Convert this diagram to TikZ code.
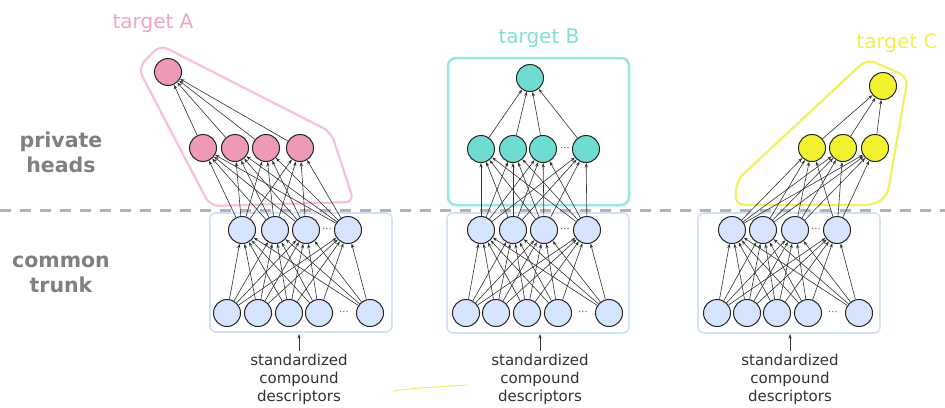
\documentclass[tikz,border=0pt]{standalone}
\usepackage{fontspec}
\setmainfont{DejaVu Sans}
\usetikzlibrary{arrows.meta}
\definecolor{pinkfill}{HTML}{EE9AB4}
\definecolor{pinkline}{HTML}{F7C2D2}
\definecolor{pinktext}{HTML}{F2A5BE}
\definecolor{tealfill}{HTML}{6EDCD0}
\definecolor{tealline}{HTML}{94E8DF}
\definecolor{tealtext}{HTML}{7FE0D6}
\definecolor{yelfill}{HTML}{F2F230}
\definecolor{yelline}{HTML}{F0F060}
\definecolor{yeltext}{HTML}{F0F050}
\definecolor{bluefill}{HTML}{D6E4FF}
\definecolor{blueline}{HTML}{D2E0FA}
\definecolor{labgray}{HTML}{808080}
\definecolor{dashgray}{HTML}{B4B4B4}
\definecolor{edgegray}{HTML}{333333}
\tikzset{
  neuron/.style={circle,draw=black!85,line width=1pt,minimum size=27pt,inner sep=0pt},
  trunkn/.style={neuron,fill=bluefill},
  pinkn/.style={neuron,fill=pinkfill},
  tealn/.style={neuron,fill=tealfill},
  yeln/.style={neuron,fill=yelfill},
  conn/.style={draw=edgegray,line width=0.6pt,-{Stealth[length=4.5pt,width=3.2pt]}},
  sidelabel/.style={font=\fontsize{20.5}{25}\selectfont\bfseries,text=labgray,align=center},
  targetlabel/.style={font=\fontsize{20}{24}\selectfont},
  desclabel/.style={font=\fontsize{15}{18}\selectfont,text=edgegray,align=center},
  dotsn/.style={font=\fontsize{10}{10}\selectfont,text=black!65,inner sep=0pt},
  trunkbox/.style={draw=blueline,line width=1.6pt,rounded corners=6pt},
}
\begin{document}
\begin{tikzpicture}[x=1pt,y=-1pt]
\useasboundingbox (0,0) rectangle (945,407);
\fill[white] (0,0) rectangle (945,407);

% dashed separator
\draw[dashgray,line width=3pt,dash pattern=on 11pt off 9pt] (0,210) -- (945,210);

% side labels
\node[sidelabel] (lp) at (61,152) {private\\heads};
\node[sidelabel] (lc) at (61,274) {common\\trunk};

% head containers
\draw[pinkline,line width=2.2pt,rounded corners=9pt] (138,68) -- (160,45) -- (331,132) -- (354,202) -- (210,206) -- cycle;
\draw[tealline,line width=2.5pt,rounded corners=8pt] (448,58) rectangle (629,205);
\draw[yelline,line width=2.2pt,rounded corners=9pt] (735,205) -- (737,180) -- (867,59) -- (908,77) -- (887,197) -- (873,205) -- cycle;

% trunk boxes
\draw[trunkbox] (210,213) rectangle (392,332);
\draw[trunkbox] (447,213) rectangle (629,333);
\draw[trunkbox] (698,213) rectangle (880,333);

% target labels
\node[targetlabel,text=pinktext] (ta) at (153,23) {target A};
\node[targetlabel,text=tealtext] (tb) at (539,38) {target B};
\node[targetlabel,text=yeltext] (tc) at (897,43) {target C};

% trunk nodes
\foreach \p/\hx/\ix in {1/{242,275,306,348}/{227,258,289,319,370},
                        2/{481,513,544,587}/{466,496,527,558,609},
                        3/{732,763,795,837}/{717,747,777,808,859}}{
  \foreach \x [count=\j] in \hx { \node[trunkn] (h\p-\j) at (\x,230) {}; }
  \foreach \x [count=\i] in \ix { \node[trunkn] (i\p-\i) at (\x,313) {}; }
  \foreach \i in {1,...,5}{ \foreach \j in {1,...,4}{ \draw[conn] (i\p-\i) -- (h\p-\j); } }
}
\node[dotsn] (d1a) at (327,230) {···};
\node[dotsn] (d1b) at (344,313) {···};
\node[dotsn] (d2a) at (565,230) {···};
\node[dotsn] (d2b) at (583,313) {···};
\node[dotsn] (d3a) at (816,230) {···};
\node[dotsn] (d3b) at (833,313) {···};

% head A
\node[pinkn] (aO) at (168,72) {};
\foreach \x [count=\k] in {203,235,266,300}{ \node[pinkn] (aH\k) at (\x,148) {}; }
\foreach \k in {1,...,4}{
  \draw[conn] (aH\k) -- (aO);
  \foreach \j in {1,...,4}{ \draw[conn] (h1-\j) -- (aH\k); }
}

% head B
\node[tealn] (bO) at (530,78) {};
\foreach \x [count=\k] in {481,513,543,586}{ \node[tealn] (bH\k) at (\x,149) {}; }
\node[dotsn] (dB) at (565,149) {···};
\foreach \k in {1,...,4}{
  \draw[conn] (bH\k) -- (bO);
  \foreach \j in {1,...,4}{ \draw[conn] (h2-\j) -- (bH\k); }
}

% head C
\node[yeln] (cO) at (883,86) {};
\foreach \x [count=\k] in {812,843,875}{ \node[yeln] (cH\k) at (\x,148) {}; }
\foreach \k in {1,...,3}{
  \draw[conn] (cH\k) -- (cO);
  \foreach \j in {1,...,4}{ \draw[conn] (h3-\j) -- (cH\k); }
}

% descriptors
\foreach \p/\x in {1/299,2/540,3/790}{
  \node[desclabel,anchor=north] (desc\p) at (\x,351) {standardized\\compound\\descriptors};
  \coordinate (bt\p) at (\x,334);
  \draw[conn] (desc\p.north) -- (bt\p);
}

% stray yellow stroke
\draw[yelline,line width=1pt] (393,391) -- (400,390) -- (410,389) -- (420,388) -- (437,387) -- (450,386) -- (467,385);
\end{tikzpicture}
\end{document}
